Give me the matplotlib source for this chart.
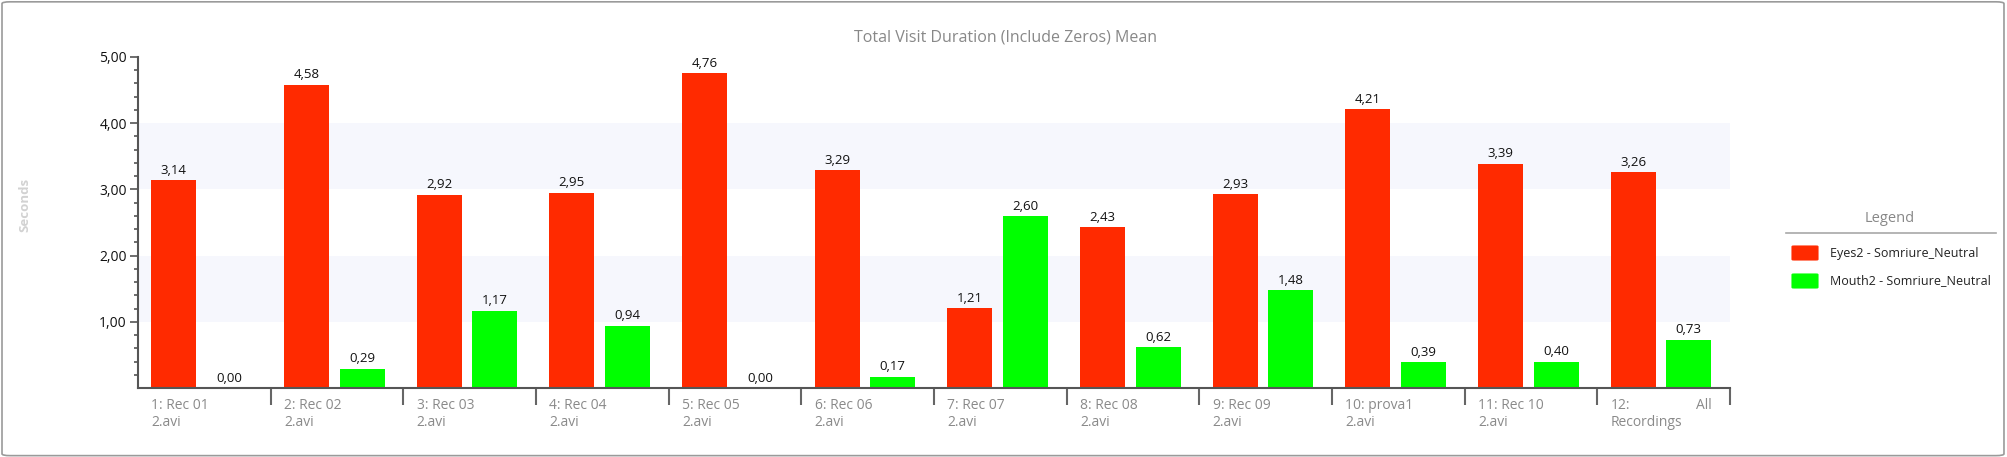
import matplotlib.pyplot as plt
from matplotlib.patches import FancyBboxPatch
from matplotlib.lines import Line2D
import matplotlib.transforms as mtransforms

plt.rcParams['font.family'] = ['Open Sans', 'DejaVu Sans']

categorias = ['1: Rec 01\n2.avi', '2: Rec 02\n2.avi', '3: Rec 03\n2.avi', '4: Rec 04\n2.avi',
              '5: Rec 05\n2.avi', '6: Rec 06\n2.avi', '7: Rec 07\n2.avi', '8: Rec 08\n2.avi',
              '9: Rec 09\n2.avi', '10: prova1\n2.avi', '11: Rec 10\n2.avi', '12:\nRecordings']
ojos = [3.14, 4.58, 2.92, 2.95, 4.76, 3.29, 1.21, 2.43, 2.93, 4.21, 3.39, 3.26]
boca = [0.00, 0.29, 1.17, 0.94, 0.00, 0.17, 2.60, 0.62, 1.48, 0.39, 0.40, 0.73]
series = ['Eyes2 - Somriure_Neutral', 'Mouth2 - Somriure_Neutral']
colores = ['#ff2a00', '#00ff00']


def fmt(v):
    return f'{v:.2f}'.replace('.', ',')


def main():
    fig = plt.figure(figsize=(20.08, 4.57), dpi=100)
    # marco redondeado
    fig.patches.append(FancyBboxPatch((0.001, 0.003), 0.997, 0.993, boxstyle='round,pad=0,rounding_size=0.004',
                                      transform=fig.transFigure, fc='none', ec='#9a9a9a', lw=1.2))
    ax = fig.add_axes([138 / 2008, 1 - 388 / 457, (1730 - 138) / 2008, (388 - 57) / 457])
    ax.patch.set_alpha(0)

    x = list(range(len(categorias)))
    ancho = 0.34
    ax.bar([i - 0.23 for i in x], ojos, ancho, color=colores[0], zorder=2)
    ax.bar([i + 0.19 for i in x], boca, ancho, color=colores[1], zorder=2)
    for i in x:
        ax.text(i - 0.23, ojos[i] + 0.05, fmt(ojos[i]), ha='center', va='bottom', fontsize=9.5, color='#111')
        ax.text(i + 0.19, boca[i] + 0.05, fmt(boca[i]), ha='center', va='bottom', fontsize=9.5, color='#111')

    for lo in (1, 3):
        ax.axhspan(lo, lo + 1, color='#f6f7fd', zorder=0, lw=0)

    ax.set_xlim(-0.5, len(categorias) - 0.5)
    ax.set_ylim(0, 5)
    ax.set_yticks([1, 2, 3, 4, 5])
    ax.set_yticklabels([fmt(v) for v in [1, 2, 3, 4, 5]])
    ax.set_yticks([v / 5 for v in range(1, 25) if v % 5 != 0], minor=True)
    ax.tick_params(axis='y', which='major', length=6, width=1.2, color='#555', labelsize=10, labelcolor='#111', pad=2)
    ax.tick_params(axis='y', which='minor', length=3, width=1.2, color='#555')
    ax.set_xticks([i + 0.5 for i in x])
    ax.set_xticklabels([])
    ax.tick_params(axis='x', which='major', length=12, width=1.5, color='#666')

    for s in ('top', 'right'):
        ax.spines[s].set_visible(False)
    for s in ('left', 'bottom'):
        ax.spines[s].set_color('#555')
        ax.spines[s].set_linewidth(1.5)

    trans = mtransforms.blended_transform_factory(ax.transData, ax.transAxes)
    for i, etiqueta in enumerate(categorias):
        ax.text(i - 0.40, -0.03, etiqueta, transform=trans, ha='left', va='top', fontsize=10,
                color='#8a8a8a', linespacing=1.15)
    ax.text(len(categorias) - 1 + 0.36, -0.03, 'All', transform=trans, ha='right', va='top',
            fontsize=10, color='#8a8a8a')

    fig.text(1006 / 2008, 1 - 38 / 457, 'Total Visit Duration (Include Zeros) Mean', ha='center', va='center',
             fontsize=11.5, color='#888')
    fig.text(25 / 2008, 1 - 205 / 457, 'Seconds', rotation=90, ha='center', va='center', fontsize=9.5,
             color='#d2d2d2', fontweight='bold')

    # leyenda
    fig.text(1890 / 2008, 1 - 219 / 457, 'Legend', ha='center', va='center', fontsize=10.5, color='#888')
    fig.add_artist(Line2D([1786 / 2008, 1996 / 2008], [1 - 233 / 457, 1 - 233 / 457], color='#a8a8a8', lw=1.2))
    for k, (nombre, col) in enumerate(zip(series, colores)):
        yc = 253 + 28 * k
        fig.patches.append(FancyBboxPatch((1792 / 2008, 1 - (yc + 7) / 457), 26 / 2008, 14 / 457,
                                          boxstyle='round,pad=0,rounding_size=0.001',
                                          transform=fig.transFigure, fc=col, ec=col, lw=0.8))
        fig.text(1830 / 2008, 1 - yc / 457, nombre, ha='left', va='center', fontsize=9, color='#222')

    fig.savefig('out.png', dpi=100)


if __name__ == '__main__':
    main()
